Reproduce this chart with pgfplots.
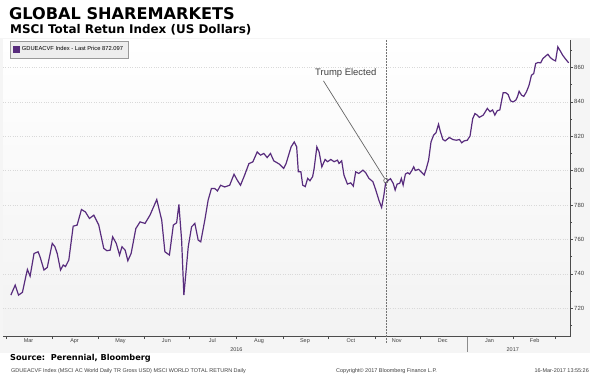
\documentclass[border=0pt]{standalone}
\usepackage{pgfplots}
\pgfplotsset{compat=1.18}
\usepackage{pgfplotstable}
\usepackage{fontspec}
\setmainfont{DejaVu Sans}
\newfontfamily\lib{Liberation Sans}
\definecolor{msci}{RGB}{88,44,125}
\pgfplotstableread{
d v
3.2 727.6
6.1 733.4
8.3 727.6
10.9 729.2
13.1 738.2
14.2 742.5
16.0 738.6
18.6 751.8
21.3 752.8
22.6 749.9
25.2 742.2
27.4 743.7
30.7 757.7
32.5 755.7
34.0 751.8
36.2 742.2
38.0 745.1
39.5 744.2
41.7 748.0
44.6 767.7
47.2 768.3
50.1 777.4
52.7 776.0
55.4 772.2
58.3 774.1
61.6 768.3
64.9 754.8
67.0 753.4
69.2 753.8
70.8 761.5
73.2 757.7
75.4 750.9
77.0 755.7
79.1 753.8
80.9 747.6
83.1 751.9
86.2 766.3
89.0 770.2
92.3 769.3
95.6 774.1
100.1 783.2
103.4 771.2
105.5 752.8
108.5 750.9
111.1 768.3
113.3 769.7
114.8 780.3
116.6 759.6
118.1 727.6
119.4 740.1
121.0 755.7
123.2 767.3
125.4 769.3
127.6 759.6
129.3 758.6
132.0 771.2
134.2 782.8
136.4 789.6
138.6 789.6
140.4 788.2
142.5 791.5
145.2 790.5
148.5 791.5
151.4 797.9
153.6 794.4
155.7 791.5
158.4 797.3
161.3 804.1
163.9 805.1
166.8 810.9
169.0 809.0
171.2 810.0
173.4 807.6
175.6 810.0
177.8 805.7
181.5 803.8
184.4 801.3
186.0 804.2
189.3 813.8
191.4 816.7
193.0 813.8
194.1 799.3
195.8 799.3
197.0 791.6
198.7 790.7
200.3 795.5
201.8 794.1
203.6 796.5
204.6 801.3
206.4 813.8
207.9 810.9
209.7 802.2
211.9 806.5
213.5 805.2
215.7 806.5
217.8 805.2
220.1 806.1
221.1 804.2
222.9 805.7
224.4 797.4
226.7 792.2
228.9 792.9
230.6 791.0
232.2 799.3
234.3 798.4
237.0 800.3
238.8 798.8
241.0 795.5
243.6 793.6
245.4 789.1
247.6 782.8
249.4 778.6
250.9 785.7
252.0 792.5
253.3 794.1
255.3 795.3
257.1 792.6
258.4 788.7
259.7 792.2
261.4 792.6
262.5 795.5
263.7 791.6
265.2 798.0
266.7 798.8
268.0 798.0
269.6 800.3
270.7 802.2
271.8 800.1
274.0 800.8
276.2 798.8
277.7 797.5
279.1 801.3
280.6 806.1
282.2 816.7
283.9 820.6
285.5 822.0
287.2 827.0
288.3 823.1
290.1 818.1
291.6 817.3
294.4 819.3
296.7 818.1
298.9 817.7
301.1 818.1
302.6 816.2
304.2 817.3
306.3 817.7
308.1 820.1
309.9 830.3
311.4 833.2
312.9 832.3
314.3 831.0
316.9 832.3
319.6 836.2
321.4 834.3
323.1 835.3
324.6 832.3
326.2 834.9
327.9 835.3
330.1 845.3
331.9 845.3
333.4 844.3
335.0 840.6
336.7 840.0
338.5 841.0
339.6 843.0
340.7 846.2
342.3 843.9
343.8 843.2
345.6 845.9
347.3 849.7
348.9 855.5
350.4 856.5
351.7 862.3
353.2 862.9
355.0 862.7
356.5 865.2
358.3 866.6
359.8 867.7
361.4 865.8
363.1 864.6
364.9 863.8
366.4 872.0
368.0 869.7
369.6 867.2
371.3 865.2
373.6 862.7
}\msci

\begin{document}
\begin{tikzpicture}[x=1bp,y=1bp]
\useasboundingbox (0,0) rectangle (600,388);
\fill[white] (0,0) rectangle (600,388);
\fill[black!4] (0,35) rectangle (590,350);
\node[anchor=base west, inner sep=0pt, font=\fontsize{16.2}{18}\selectfont\bfseries] at (9,369) {GLOBAL SHAREMARKETS};
\node[anchor=base west, inner sep=0pt, font=\fontsize{12}{14}\selectfont\bfseries] at (10,354.5) {MSCI Total Retun Index (US Dollars)};
\begin{axis}[
  at={(3bp,51.3bp)}, anchor=south west, scale only axis,
  width=567bp, height=296.7bp,
  xmin=-2, xmax=374.5, ymin=703.4, ymax=876,
  axis x line*=bottom, axis y line*=right,
  axis line style={black!70, line width=0.6bp},
  clip=false,
  xtick={0,31,61,92,122,153,184,214,245,275,306,337,365},
  xticklabels={},
  extra x ticks={15,45.5,76,106.5,137,168,198.5,229,259.5,290,321,351},
  extra x tick labels={Mar,Apr,May,Jun,Jul,Aug,Sep,Oct,Nov,Dec,Jan,Feb},
  extra x tick style={major tick length=0pt, grid=none},
  xticklabel style={font=\lib\fontsize{5.5}{6}\selectfont, text=black!75, inner sep=1.5bp},
  ytick={720,740,...,860},
  minor ytick={710,730,...,870},
  tick align=outside,
  major tick length=2.5bp, minor tick length=1.5bp,
  tick style={black!70, line width=0.5bp},
  yticklabel style={font=\lib\fontsize{6}{7}\selectfont, text=black!75, inner sep=1.5bp},
  /pgf/number format/assume math mode=true,
  ymajorgrids, grid style={dotted, black!15, line width=0.5bp},
  axis background/.style={shade, top color=white, bottom color=black!5},
  legend style={at={(0.0123,0.9966)}, anchor=north west, draw=black!40, fill=black!7,
    font=\lib\fontsize{5.8}{6.5}\selectfont, inner xsep=3bp, inner ysep=3.5bp,
    /tikz/every even column/.append style={column sep=1bp}},
  legend image code/.code={\fill[msci] (0bp,-2.7bp) rectangle (5.5bp,2.7bp);},
]
\addplot[msci, line width=1.2bp] table[x=d, y=v] {\msci};
\addlegendentry{GDUEACVF Index - Last Price 872.097}
\draw[densely dotted, black!55, line width=0.5bp] (axis cs:252.3,876) -- (axis cs:252.3,700);
\draw[black!45, line width=0.4bp] (axis cs:306,703.4) -- (axis cs:306,694.5);
\draw[black!60, line width=0.7bp] (axis cs:210.8,852.2) -- (axis cs:251.3,795.6);
\addplot[only marks, mark=o, mark size=2.3bp, black!65, line width=0.6bp, forget plot] coordinates {(252.3,794.2)};
\node[font=\lib\fontsize{9.5}{11}\selectfont, text=black!75] at (axis cs:225.6,856.6) {Trump Elected};
\node[font=\lib\fontsize{5.5}{6}\selectfont, text=black!75] at (axis cs:153,703.4) [yshift=-12.5bp] {2016};
\node[font=\lib\fontsize{5.5}{6}\selectfont, text=black!75] at (axis cs:336.5,703.4) [yshift=-12.5bp] {2017};
\end{axis}
\node[anchor=base west, inner sep=0pt, font=\fontsize{8.2}{10}\selectfont\bfseries] at (10,27.5) {Source:\ \ Perennial, Bloomberg};
\node[anchor=base west, inner sep=0pt, font=\lib\fontsize{5.5}{6}\selectfont, text=black!75] at (11,16) {GDUEACVF Index (MSCI AC World Daily TR Gross USD) MSCI WORLD TOTAL RETURN Daily};
\node[anchor=base west, inner sep=0pt, font=\lib\fontsize{5.5}{6}\selectfont, text=black!75] at (336,16) {Copyright\textcopyright\ 2017 Bloomberg Finance L.P.};
\node[anchor=base east, inner sep=0pt, font=\lib\fontsize{5.5}{6}\selectfont, text=black!75] at (589,16) {16-Mar-2017 13:55:26};
\end{tikzpicture}
\end{document}
